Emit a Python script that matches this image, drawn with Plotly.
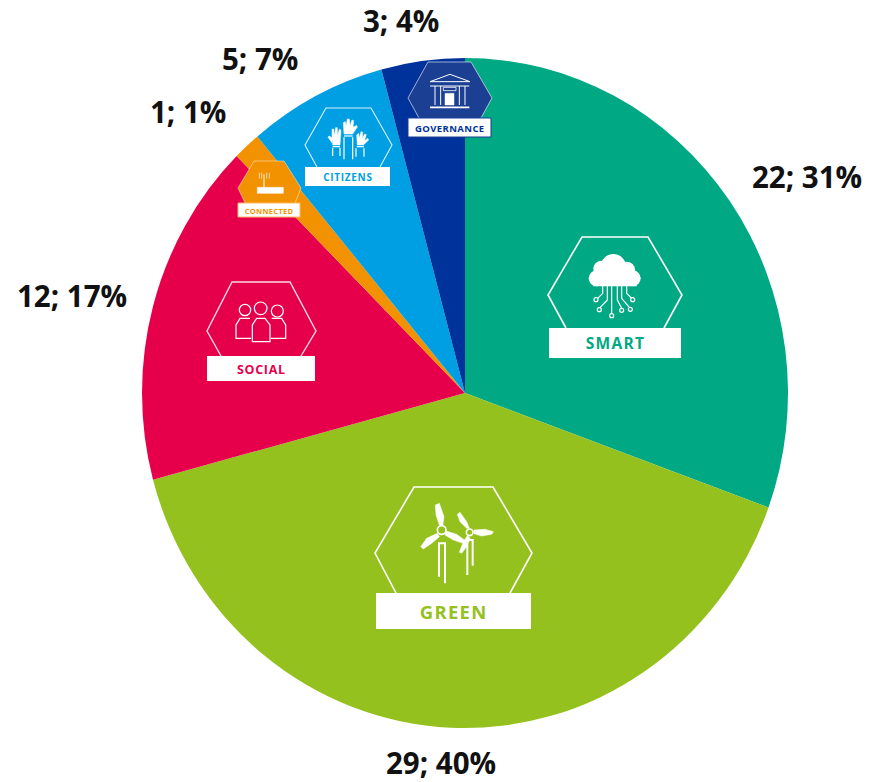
import plotly.graph_objects as go

W, H = 882, 782
CATEGORIES = ["SMART", "GREEN", "SOCIAL", "CONNECTED", "CITIZENS", "GOVERNANCE"]
VALUES = [22, 29, 12, 1, 5, 3]
COLORS = ["#00A984", "#95C11F", "#E6004C", "#F39200", "#009FE3", "#00329B"]

CX, CY, RX, RY = 465, 393, 323, 335
# centre of each outside value label, in pixels
LABEL_POS = [(807, 176), (441, 762), (72, 295), (188, 111), (260, 58), (401, 21)]


def px(x):
    return x / W


def py(y):
    return 1 - y / H


shapes = []
LW = 1.6


def mapper(ox, oy, s=1 / 3):
    return lambda x, y: (ox + x * s, oy + y * s)


def path(m, pts, close=False, fill=None, lw=LW, color="white"):
    d = ""
    for i, (x, y) in enumerate(pts):
        X, Y = m(x, y)
        d += ("M" if i == 0 else "L") + f"{px(X):.5f},{py(Y):.5f} "
    if close:
        d += "Z"
    shapes.append(dict(type="path", path=d, xref="paper", yref="paper", layer="above",
                       fillcolor=fill if fill else "rgba(0,0,0,0)",
                       line=dict(color=color, width=lw)))


def circle(m, x, y, r, fill=None, lw=LW):
    X0, Y0 = m(x - r, y - r)
    X1, Y1 = m(x + r, y + r)
    shapes.append(dict(type="circle", xref="paper", yref="paper", layer="above",
                       x0=px(X0), x1=px(X1), y0=py(Y0), y1=py(Y1),
                       fillcolor=fill if fill else "rgba(0,0,0,0)",
                       line=dict(color="white", width=lw)))


def rect(x0, y0, x1, y1, fill="white", line="white", lw=0):
    shapes.append(dict(type="rect", xref="paper", yref="paper", layer="above",
                       x0=px(x0), x1=px(x1), y0=py(y0), y1=py(y1),
                       fillcolor=fill, line=dict(color=line, width=lw)))


ident = mapper(0, 0, 1)


def badge(left, right, top, mid, fl, fr, bl, br, rx0, ry0, rx1, ry1, lw=LW, fill=None, border="white", blw=0,
          color="white"):
    path(ident, [(bl, ry0), (left, mid), (fl, top), (fr, top), (right, mid), (br, ry0)],
         lw=lw, fill=fill, color=color)
    rect(rx0, ry0, rx1, ry1, line=border, lw=blw)


# hexagon badges with their white name plates
badge(548, 682, 237, 295, 582, 648, 566, 664, 549, 328, 681, 358)
badge(375, 532, 487, 553, 414, 493, 396, 510, 376, 593, 531, 629)
badge(207, 316, 282, 331, 232, 290, 221, 301, 207, 356, 315, 381, lw=1.4, color="rgba(255,255,255,0.85)")
badge(305, 392, 108, 145, 326, 371, 317, 380, 305, 167, 390, 186, lw=1.1, color="rgba(255,255,255,0.85)")
badge(408, 492, 62, 98, 428, 471, 419, 481, 408, 118, 491, 137, lw=1, fill="#1B3F93", border="#1B3F93", blw=1,
      color="rgba(255,255,255,0.6)")
badge(238, 301, 161, 188, 254, 284, 245, 295, 238, 203, 300, 217, lw=0.9, fill="#F39200",
      border="#F7B860", blw=1, color="rgba(255,255,255,0.5)")

# cloud icon
m = mapper(530, 225)
for x, y, r in [(200, 160, 24), (250, 125, 38), (215, 132, 25), (290, 135, 25), (308, 160, 24)]:
    circle(m, x, y, r, fill="white", lw=0)
path(m, [(190, 150), (320, 150), (320, 184), (190, 184)], close=True, fill="white", lw=0)
for pts, c in [
    ([(218, 182), (218, 205), (203, 220)], (198, 224)),
    ([(232, 182), (232, 225), (210, 248)], (208, 254)),
    ([(245, 182), (245, 265)], (245, 272)),
    ([(262, 182), (262, 225), (275, 250)], (275, 256)),
    ([(275, 182), (275, 220), (298, 247)], (301, 253)),
    ([(290, 182), (290, 205), (304, 219)], (308, 224)),
]:
    path(m, pts, lw=1.2)
    circle(m, c[0], c[1], 6, lw=1.2)

# wind turbine icon
m = mapper(360, 475)
for blade in [
    [(226, 90), (238, 85), (252, 125), (248, 152), (238, 150), (228, 120)],
    [(232, 175), (200, 190), (182, 215), (190, 222), (215, 205), (238, 185)],
    [(258, 168), (290, 178), (320, 200), (310, 205), (280, 195), (255, 180)],
    [(292, 118), (300, 112), (320, 140), (328, 160), (320, 160), (300, 140)],
    [(342, 165), (375, 163), (400, 170), (395, 178), (365, 183), (342, 176)],
    [(322, 182), (310, 200), (298, 232), (305, 235), (320, 215), (330, 190)],
]:
    path(m, blade, close=True, fill="white", lw=0.5)
circle(m, 245, 165, 13)
circle(m, 329, 172, 10)
for pts in [
    [(237, 305), (237, 205), (255, 205), (255, 325)],
    [(322, 300), (322, 195), (338, 195), (338, 272)],
]:
    path(m, pts, lw=2)

# people icon
m = mapper(195, 275)
circle(m, 150, 105, 17, lw=1.2)
circle(m, 197, 100, 19, lw=1.2)
circle(m, 247, 108, 18, lw=1.2)
for pts in [
    [(172, 200), (172, 150), (185, 130), (210, 130), (225, 150), (225, 200), (172, 200)],
    [(168, 190), (123, 190), (123, 150), (135, 130), (165, 130)],
    [(230, 130), (260, 130), (272, 150), (272, 190), (228, 190)],
]:
    path(m, pts, lw=1.2)

# hands icon
m = mapper(200, 50)
for hand in [
    [(432, 252), (430, 218), (436, 215), (438, 230), (442, 207), (448, 207), (450, 228), (456, 210),
     (461, 212), (459, 232), (470, 226), (472, 231), (458, 252)],
    [(398, 285), (396, 263), (387, 258), (384, 262), (396, 278), (396, 238), (401, 237), (403, 258),
     (407, 233), (412, 233), (412, 258), (418, 238), (423, 240), (420, 285)],
    [(472, 285), (470, 255), (476, 250), (478, 265), (483, 245), (488, 246), (487, 265), (494, 252),
     (499, 254), (493, 272), (503, 265), (506, 270), (490, 285)],
]:
    path(m, hand, close=True, fill="white", lw=0.5)
for pts in [
    [(432, 262), (432, 328)], [(458, 262), (458, 328)],
    [(398, 293), (398, 318)], [(420, 293), (420, 318)],
    [(468, 295), (468, 320)], [(492, 295), (492, 320)],
    [(432, 258), (458, 258)], [(398, 290), (420, 290)], [(470, 290), (492, 290)],
]:
    path(m, pts, lw=1.2)

# building icon
path(m, [(690, 95), (750, 73), (810, 95), (690, 95)], lw=1)
path(m, [(690, 108), (808, 108)], lw=1.2)
path(m, [(690, 172), (808, 172)], lw=1.6)
for x in (705, 722, 778, 795):
    path(m, [(x, 108), (x, 165)], lw=1)
path(m, [(735, 130), (762, 130), (762, 165), (735, 165)], close=True, fill="white", lw=0.5)
path(m, [(730, 112), (768, 112), (768, 122), (730, 122)], close=True, lw=0.8)

# router icon
path(m, [(172, 412), (250, 412), (250, 430), (172, 430)], close=True, fill="white", lw=0.5)
path(m, [(192, 412), (192, 372)], lw=1)
for x in (178, 185, 200, 208):
    path(m, [(x, 368), (x, 386)], lw=0.6)

plates = [
    dict(text="SMART", x=615, y=343, size=15.5),
    dict(text="GREEN", x=453.5, y=611, size=18.5),
    dict(text="SOCIAL", x=261, y=369, size=12.5),
    dict(text="CITIZENS", x=348, y=177, size=10),
    dict(text="GOVERNANCE", x=450, y=128, size=9.5),
    dict(text="CONNECTED", x=269, y=211, size=7.5),
]
annotations = [
    dict(text=l["text"], xref="paper", yref="paper", x=px(l["x"]), y=py(l["y"]),
         xanchor="center", yanchor="middle", showarrow=False,
         font=dict(family="Open Sans", size=l["size"], weight=700, color=COLORS[CATEGORIES.index(l["text"])]))
    for l in plates
]
total = sum(VALUES)
for v, (x, y) in zip(VALUES, LABEL_POS):
    annotations.append(dict(text=f"{v}; {round(v / total * 100)}%", xref="paper", yref="paper",
                            x=px(x), y=py(y), xanchor="center", yanchor="middle", showarrow=False,
                            font=dict(family="Open Sans", size=29.5, weight=700, color="#111111")))

fig = go.Figure(go.Pie(
    labels=CATEGORIES,
    values=VALUES,
    sort=False,
    direction="clockwise",
    rotation=0,
    marker=dict(colors=COLORS, line=dict(width=0)),
    textinfo="none",
    hoverinfo="label+value+percent",
    domain=dict(x=[px(CX - RX), px(CX + RX)], y=[py(CY + RX), py(CY - RX)]),
    showlegend=False,
))
fig.update_layout(width=W, height=H, margin=dict(l=0, r=0, t=0, b=0), paper_bgcolor="white",
                  shapes=shapes, annotations=annotations, showlegend=False)

post = f"""
document.body.style.margin='0';
document.documentElement.style.overflow='hidden';
document.querySelectorAll('.pielayer').forEach(function(g){{
  g.setAttribute('transform','translate(0,{CY}) scale(1,{RY / RX:.5f}) translate(0,{-CY})');
}});
var sp=[1.3,1.3,0.7,0.7,0.4,0.3];
sp.forEach(function(s,i){{
  var t=document.querySelector('.annotation[data-index="'+i+'"] text');
  if(t) t.style.letterSpacing=s+'px';
}});
"""
fig.write_html("out.html", post_script=post, config=dict(displayModeBar=False))
